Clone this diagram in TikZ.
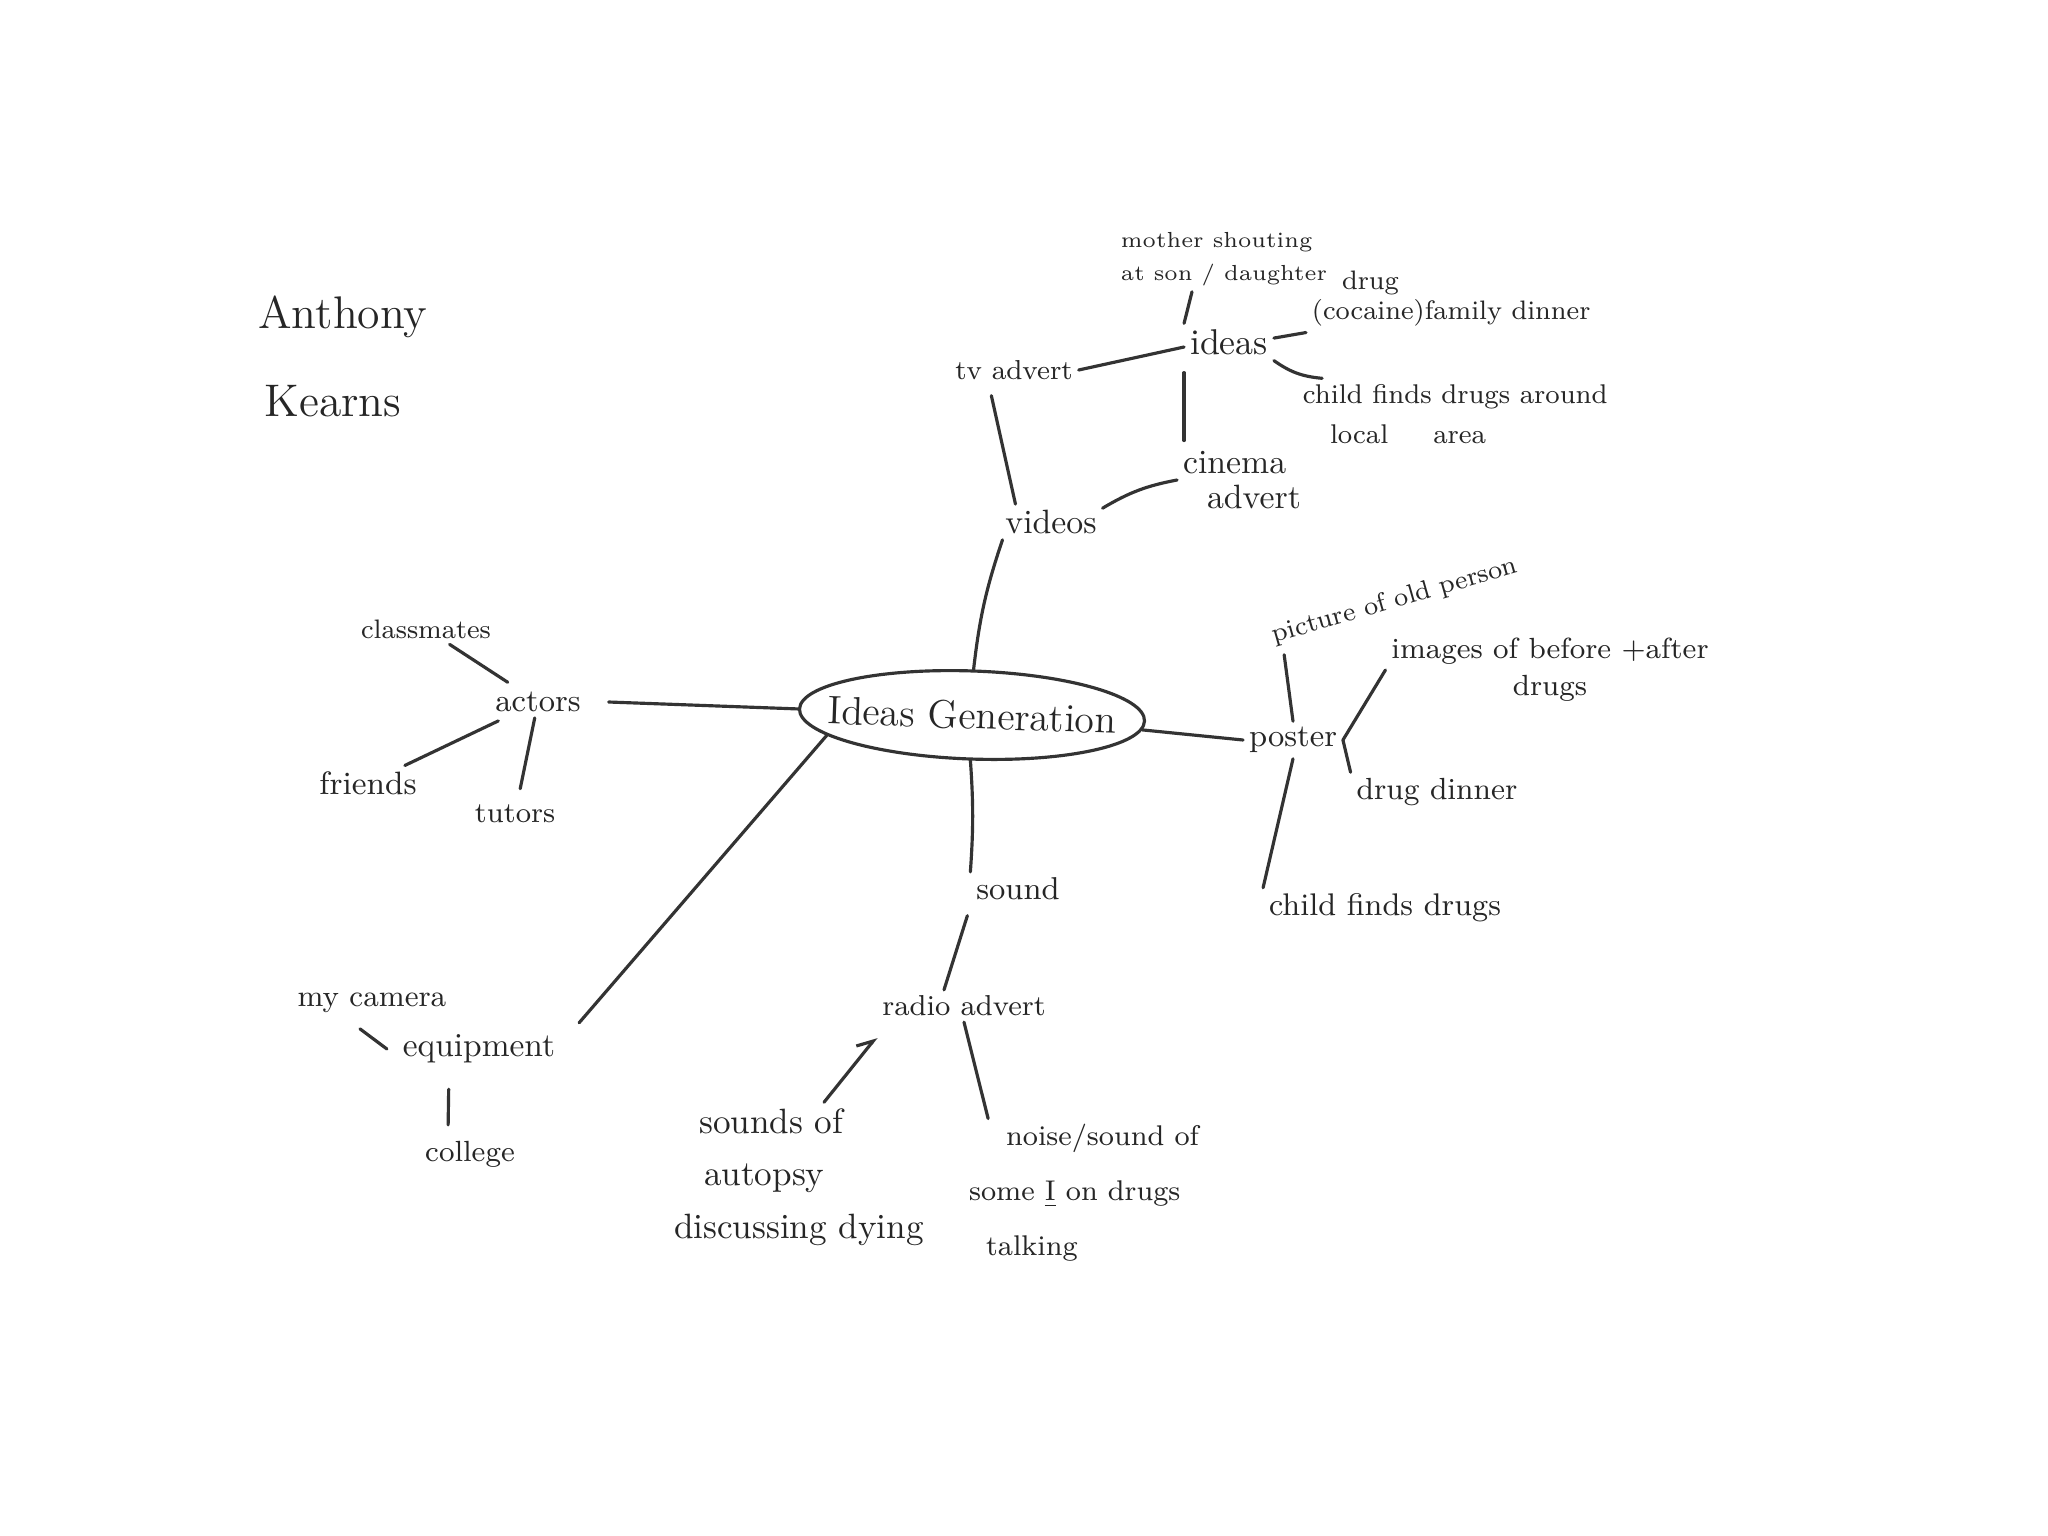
\documentclass[tikz,border=0pt]{standalone}
\usetikzlibrary{shapes.geometric,arrows.meta}
\newcommand{\myfs}[2]{\fontsize{#1}{#2}\selectfont}
\tikzset{
  lbl/.style={inner sep=1.5pt, text=black!85},
  link/.style={draw=black!80, line width=0.9pt, line cap=round},
}
\begin{document}
\begin{tikzpicture}[x=0.01cm, y=-0.01cm]
\fill[white] (0,0) rectangle (2048,1536);
\useasboundingbox (0,0) rectangle (2048,1536);

% title
\node[lbl, align=left, font=\myfs{13}{25}] (name) at (343,356) {Anthony\\\hspace{0.06cm}Kearns};

% centre
\node[ellipse, draw=black!80, line width=0.9pt, minimum width=3.45cm, minimum height=0.88cm, inner sep=0pt, rotate=-2, text=black!85, font=\myfs{11.3}{13}] (IG) at (972,715) {\makebox[0pt]{Ideas Generation}};

% actors branch
\node[lbl, font=\myfs{9}{11}] (actors) at (538,702) {actors};
\node[lbl, font=\myfs{7.6}{9}] (classmates) at (426,629) {classmates};
\node[lbl, font=\myfs{9.2}{11}] (friends) at (368,783) {friends};
\node[lbl, font=\myfs{8.2}{10}] (tutors) at (515,814) {tutors};

% equipment branch
\node[lbl, font=\myfs{9.5}{11}] (equipment) at (479,1049) {equipment};
\node[lbl, font=\myfs{8.6}{10}] (camera) at (372,1003) {my camera};
\node[lbl, font=\myfs{8.3}{10}] (college) at (470,1154) {college};

% videos branch
\node[lbl, font=\myfs{9.6}{11}] (videos) at (1051,522) {videos};
\node[lbl, font=\myfs{7.8}{9}] (tv) at (1014,370) {tv advert};
\node[lbl, font=\myfs{10.2}{12}] (ideas) at (1229,342) {ideas};
\node[lbl, font=\myfs{9.6}{9.8}, align=left] (cinema) at (1242,480) {cinema\\\hspace{0.24cm}advert};
\node[lbl, font=\myfs{6.2}{9.4}, align=left] (mother) at (1224,259) {mother shouting\\at son / daughter};
\node[lbl, font=\myfs{7.6}{8.5}, align=left, anchor=west] (drug) at (1306,299) {\hspace{0.3cm}drug\\(cocaine)family dinner};
\node[lbl, font=\myfs{7.7}{11.4}, align=left, anchor=west] (child1) at (1297,414) {child finds drugs around\\\hspace{0.27cm}local\hspace{0.45cm}area};

% poster branch
\node[lbl, font=\myfs{9}{11}] (poster) at (1293,740) {poster};
\node[lbl, font=\myfs{7.5}{9}, rotate=16] (picture) at (1395,601) {picture of old person};
\node[lbl, font=\myfs{8.3}{10.5}, align=center] (images) at (1550,670) {images of before +after\\drugs};
\node[lbl, font=\myfs{8.7}{10}] (drugdinner) at (1437,792) {drug dinner};
\node[lbl, font=\myfs{8.9}{10}] (childfinds) at (1385,908) {child finds drugs};

% sound branch
\node[lbl, font=\myfs{9}{11}] (sound) at (1018,889) {sound};
\node[lbl, font=\myfs{8.2}{10}] (radio) at (964,1006) {radio advert};
\node[lbl, font=\myfs{10}{15}, align=left] (sounds) at (799,1177) {\hspace{0.25cm}sounds of\\\hspace{0.3cm}autopsy\\discussing dying};
\node[lbl, font=\myfs{8.1}{15.6}, align=left] (noise) at (1084,1193) {\hspace{0.37cm}noise/sound of\\some \underline{I} on drugs\\\hspace{0.17cm}talking};

% connectors
\draw[link] (actors.east) ++(0.22cm,0) -- (IG.west);
\draw[link, shorten >=2pt] (classmates) -- (actors);
\draw[link, shorten >=2pt] (friends) -- (actors);
\draw[link, shorten <=3pt] (tutors) -- (actors);

\draw[link] ([xshift=0.18cm,yshift=0.06cm]equipment.north east) -- (IG.190);
\draw[link] ([xshift=-0.12cm,yshift=-0.1cm]camera.south) -- ([xshift=-0.1cm]equipment.west);
\draw[link, shorten <=0.2cm, shorten >=0.1cm] ([xshift=-0.3cm]equipment.south) -- ([xshift=-0.22cm]college.north);

\draw[link] (IG.north) to[bend left=6] ([xshift=0.03cm]videos.south west);
\draw[link] ([xshift=0.42cm,yshift=-0.1cm]tv.south west) -- ([xshift=0.16cm]videos.north west);
\draw[link] (videos.15) to[bend left=10] (cinema.west);
\draw[link, shorten <=0.12cm, shorten >=0.05cm] (ideas.south west) -- (ideas.south west |- cinema.north);
\draw[link] (tv.east) -- ([yshift=-0.05cm]ideas.west);
\draw[link] (ideas.north west) -- ([xshift=-0.32cm]mother.south);
\draw[link] (ideas.5) -- (drug.south west);
\draw[link] (ideas.south east) to[bend right=15] (child1.165);

\draw[link] (IG.-3) -- (poster.west);
\draw[link] ([xshift=0.12cm]picture.south west) -- (poster.north);
\draw[link] (poster.east) -- (images.west);
\draw[link] (poster.east) -- (drugdinner.north west);
\draw[link] (poster.south) -- (childfinds.north west);

\draw[link] (IG.south) to[bend left=4] (sound.north west);
\draw[link, shorten <=0.1cm] (sound.south west) -- ([xshift=-0.2cm]radio.north);
\draw[link, -{Straight Barb[harpoon, length=4pt, angle=70:5pt]}] ([xshift=0.25cm]sounds.north) -- ([yshift=-0.15cm]radio.south west);
\draw[link] (radio.south) -- ([xshift=0.25cm]noise.north west);
\end{tikzpicture}
\end{document}
